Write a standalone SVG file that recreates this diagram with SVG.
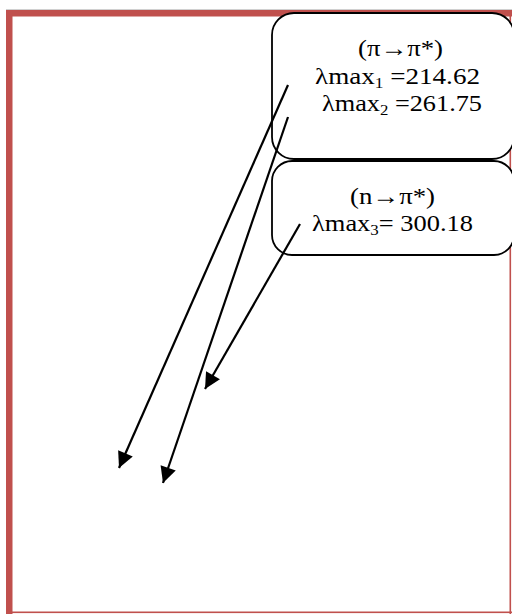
<svg xmlns="http://www.w3.org/2000/svg" width="512" height="614" viewBox="0 0 512 614">
<style>
.box{fill:#fff;stroke:#000;stroke-width:1.8}
.t{font-family:"Liberation Serif","Times New Roman",serif;font-size:23.5px;fill:#000}
.sub{font-size:15px}
.conn line{stroke:#000;stroke-width:2.2}
.frame{fill:#C0504D}
</style>
<defs>
<marker id="ah" markerUnits="userSpaceOnUse" markerWidth="20" markerHeight="20" viewBox="0 0 20 20" refX="18" refY="10" orient="auto">
<path d="M2,2 L18,10 L2,18 Z" fill="#000"/>
</marker>
</defs>
<rect width="512" height="614" fill="#fff"/>
<g id="frame">
<rect x="6" y="9" width="506" height="1" fill="#d0d0d0"/>
<rect class="frame" x="6" y="10" width="506" height="6.5"/>
<rect class="frame" x="6" y="10" width="6.5" height="604"/>
<rect class="frame" x="509.5" y="10" width="1.6" height="604"/>
<rect class="frame" x="6" y="611.5" width="506" height="1.6"/>
</g>
<g id="box1">
<rect class="box" x="272" y="13" width="242" height="146" rx="22" ry="22"/>
<text class="t" x="358" y="56" textLength="85" lengthAdjust="spacingAndGlyphs">(π→π*)</text>
<text class="t" x="315" y="84" textLength="165" lengthAdjust="spacingAndGlyphs">λmax<tspan class="sub" dy="4">1</tspan><tspan dy="-4"> =214.62</tspan></text>
<text class="t" x="322" y="111" textLength="160" lengthAdjust="spacingAndGlyphs">λmax<tspan class="sub" dy="4">2</tspan><tspan dy="-4"> =261.75</tspan></text>
</g>
<g id="box2">
<rect class="box" x="272" y="161" width="242" height="94" rx="20" ry="20"/>
<text class="t" x="350" y="204" textLength="85" lengthAdjust="spacingAndGlyphs">(n→π*)</text>
<text class="t" x="312" y="231" textLength="161" lengthAdjust="spacingAndGlyphs">λmax<tspan class="sub" dy="4">3</tspan><tspan dy="-4">= 300.18</tspan></text>
</g>
<g id="connectors" class="conn">
<line x1="288" y1="85" x2="119" y2="468" marker-end="url(#ah)"/>
<line x1="288" y1="117" x2="163" y2="483" marker-end="url(#ah)"/>
<line x1="300" y1="224" x2="205" y2="389" marker-end="url(#ah)"/>
</g>
</svg>
